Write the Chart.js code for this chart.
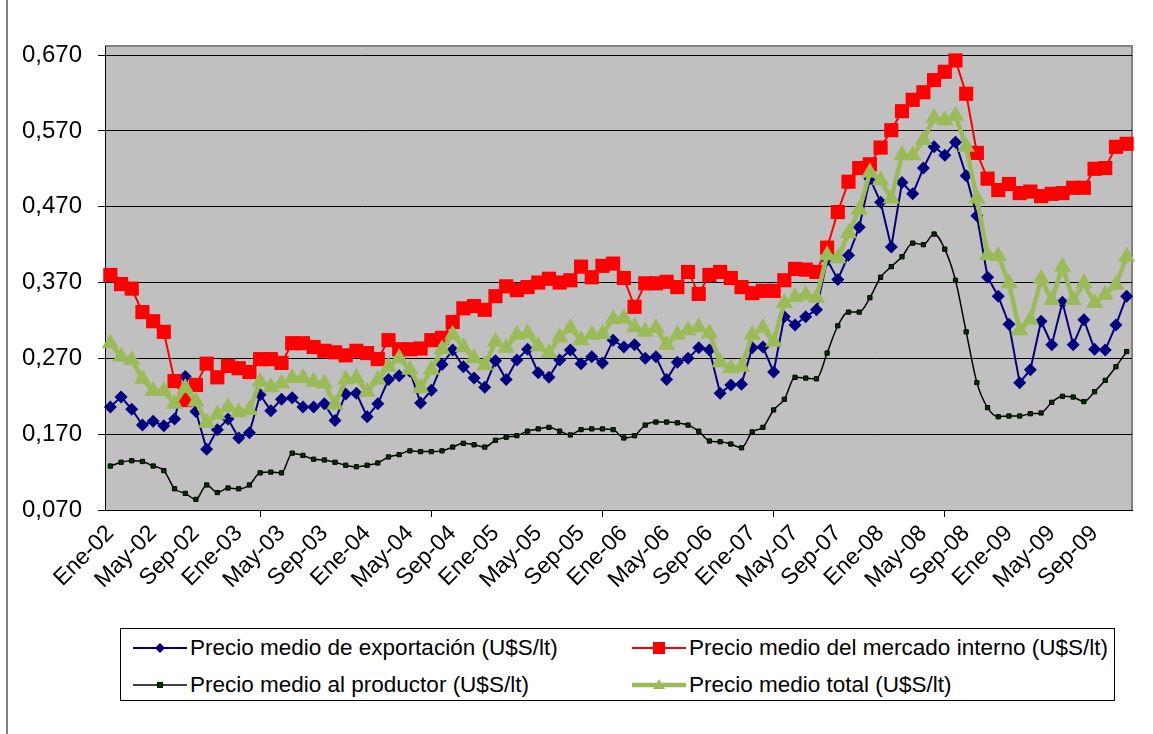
<!DOCTYPE html>
<html lang="es">
<head>
  <meta charset="UTF-8">
  <title>Precios medios</title>
  <script src="https://cdn.jsdelivr.net/npm/chart.js"></script>
  <style>
    * { box-sizing: border-box; }
    body { margin: 0; background: #fff; font-family: 'Liberation Sans', Arial, sans-serif; }
    #wrap { position: relative; width: 1153px; height: 734px; }
    #frame { position: absolute; left: 6px; top: 0; width: 2px; height: 734px; background: #7f7f7f; }
    canvas { position: absolute; left: 0; top: 0; }
    .legend { position: absolute; left: 120px; top: 628px; width: 995px; height: 73px; border: 1px solid #000; background: #fff; }
    .item { position: absolute; display: flex; align-items: center; font-size: 22.5px; color: #000; white-space: nowrap; }
    .item svg { margin-right: 3px; }
  </style>
</head>
<body>
<div id="wrap">
  <canvas id="chart" width="1153" height="734"></canvas>
  <div id="frame"></div>
  <div class="legend" id="legend"></div>
</div>
<script>
// months Ene-02 .. Dic-09
const months = [
  'Ene-02','Feb-02','Mar-02','Abr-02','May-02','Jun-02','Jul-02','Ago-02','Sep-02','Oct-02','Nov-02','Dic-02',
  'Ene-03','Feb-03','Mar-03','Abr-03','May-03','Jun-03','Jul-03','Ago-03','Sep-03','Oct-03','Nov-03','Dic-03',
  'Ene-04','Feb-04','Mar-04','Abr-04','May-04','Jun-04','Jul-04','Ago-04','Sep-04','Oct-04','Nov-04','Dic-04',
  'Ene-05','Feb-05','Mar-05','Abr-05','May-05','Jun-05','Jul-05','Ago-05','Sep-05','Oct-05','Nov-05','Dic-05',
  'Ene-06','Feb-06','Mar-06','Abr-06','May-06','Jun-06','Jul-06','Ago-06','Sep-06','Oct-06','Nov-06','Dic-06',
  'Ene-07','Feb-07','Mar-07','Abr-07','May-07','Jun-07','Jul-07','Ago-07','Sep-07','Oct-07','Nov-07','Dic-07',
  'Ene-08','Feb-08','Mar-08','Abr-08','May-08','Jun-08','Jul-08','Ago-08','Sep-08','Oct-08','Nov-08','Dic-08',
  'Ene-09','Feb-09','Mar-09','Abr-09','May-09','Jun-09','Jul-09','Ago-09','Sep-09','Oct-09','Nov-09','Dic-09'
];

const exportacion = [
  0.206,0.219,0.203,0.182,0.187,0.181,0.190,0.246,0.200,0.150,0.176,0.190,
  0.165,0.172,0.222,0.201,0.216,0.218,0.206,0.206,0.210,0.188,0.223,0.224,
  0.193,0.210,0.242,0.247,0.253,0.211,0.228,0.262,0.281,0.259,0.244,0.232,
  0.267,0.242,0.268,0.282,0.251,0.245,0.268,0.281,0.263,0.272,0.264,0.294,
  0.285,0.288,0.270,0.272,0.242,0.265,0.270,0.284,0.281,0.224,0.235,0.236,
  0.284,0.285,0.252,0.325,0.314,0.325,0.334,0.400,0.374,0.406,0.443,0.507,
  0.476,0.417,0.502,0.487,0.521,0.549,0.538,0.555,0.511,0.458,0.377,0.352,
  0.315,0.238,0.255,0.319,0.288,0.344,0.288,0.321,0.282,0.281,0.314,0.352
];
const mercadoInterno = [
  0.380,0.368,0.362,0.331,0.319,0.305,0.240,0.215,0.235,0.263,0.245,0.260,
  0.257,0.252,0.269,0.269,0.264,0.290,0.290,0.285,0.280,0.278,0.274,0.280,
  0.277,0.269,0.294,0.282,0.282,0.283,0.294,0.297,0.318,0.336,0.339,0.334,
  0.352,0.365,0.360,0.364,0.370,0.375,0.370,0.373,0.391,0.377,0.392,0.395,
  0.376,0.338,0.369,0.369,0.371,0.364,0.384,0.355,0.380,0.384,0.376,0.364,
  0.356,0.359,0.359,0.373,0.388,0.387,0.384,0.416,0.463,0.503,0.521,0.526,
  0.548,0.571,0.596,0.611,0.621,0.637,0.648,0.663,0.619,0.541,0.507,0.492,
  0.500,0.488,0.490,0.484,0.487,0.488,0.495,0.495,0.520,0.521,0.549,0.553
];
const productor = [
  0.128,0.133,0.135,0.134,0.128,0.122,0.098,0.092,0.084,0.103,0.093,0.099,
  0.098,0.103,0.119,0.120,0.119,0.145,0.142,0.137,0.136,0.133,0.129,0.127,
  0.129,0.132,0.140,0.143,0.148,0.147,0.147,0.148,0.153,0.158,0.156,0.153,
  0.162,0.166,0.168,0.174,0.177,0.179,0.174,0.169,0.176,0.177,0.177,0.176,
  0.165,0.168,0.182,0.186,0.186,0.185,0.182,0.174,0.161,0.160,0.157,0.152,
  0.173,0.179,0.202,0.216,0.245,0.244,0.243,0.277,0.313,0.331,0.331,0.350,
  0.377,0.391,0.404,0.422,0.420,0.434,0.414,0.373,0.305,0.238,0.205,0.193,
  0.194,0.194,0.197,0.198,0.212,0.220,0.219,0.213,0.226,0.241,0.259,0.279
];
const total = [
  0.290,0.272,0.268,0.243,0.227,0.227,0.210,0.231,0.213,0.185,0.196,0.206,
  0.199,0.202,0.239,0.232,0.237,0.244,0.244,0.239,0.237,0.209,0.242,0.244,
  0.226,0.242,0.259,0.270,0.255,0.231,0.255,0.282,0.301,0.285,0.270,0.261,
  0.292,0.284,0.301,0.303,0.286,0.277,0.298,0.310,0.294,0.301,0.302,0.322,
  0.323,0.311,0.305,0.310,0.288,0.301,0.307,0.311,0.303,0.265,0.257,0.259,
  0.301,0.310,0.292,0.343,0.351,0.354,0.350,0.406,0.402,0.435,0.466,0.515,
  0.505,0.481,0.538,0.538,0.558,0.587,0.584,0.590,0.549,0.481,0.406,0.405,
  0.369,0.307,0.321,0.375,0.347,0.391,0.347,0.369,0.343,0.354,0.367,0.404
];
const yTicks = [0.07, 0.17, 0.27, 0.37, 0.47, 0.57, 0.67];
const seriesNames = [
  'Precio medio de exportación (U$S/lt)',
  'Precio medio del mercado interno (U$S/lt)',
  'Precio medio al productor (U$S/lt)',
  'Precio medio total (U$S/lt)'
];

// gray plot area + gray top/right border like excel
const plotBg = {
  id: 'plotBg',
  beforeDraw(c) {
    const a = c.chartArea, ctx = c.ctx;
    ctx.save();
    ctx.fillStyle = '#c0c0c0';
    ctx.fillRect(a.left, a.top, a.right - a.left, a.bottom - a.top);
    ctx.strokeStyle = '#808080'; ctx.lineWidth = 2;
    ctx.beginPath();
    ctx.moveTo(a.left, a.top); ctx.lineTo(a.right, a.top); ctx.lineTo(a.right, a.bottom);
    ctx.stroke();
    ctx.restore();
  }
};

const chart = new Chart(document.getElementById('chart'), {
  type: 'line',
  data: {
    labels: months,
    datasets: [
      { label: seriesNames[0], data: exportacion, order: 3, borderColor: '#000080', backgroundColor: '#000080', borderWidth: 2,
        pointStyle: 'rectRot', pointRadius: 6.5, pointBorderWidth: 0 },
      { label: seriesNames[1], data: mercadoInterno, order: 2, borderColor: '#ff0000', backgroundColor: '#ff0000', borderWidth: 2,
        pointStyle: 'rect', pointRadius: 10, pointBorderWidth: 0 },
      { label: seriesNames[2], data: productor, order: 1, borderColor: '#000000', backgroundColor: '#003300', borderWidth: 1.5,
        pointStyle: 'rect', pointRadius: 3, pointBorderWidth: 1, pointBorderColor: '#000', cubicInterpolationMode: 'monotone' },
      { label: seriesNames[3], data: total, order: 0, borderColor: '#9bbb59', backgroundColor: '#9bbb59', borderWidth: 4.5,
        pointStyle: 'triangle', pointRadius: 10, pointBorderWidth: 0 }
    ]
  },
  options: {
    responsive: false,
    animation: false,
    layout: { padding: { top: 46, right: 21, left: 0, bottom: 0 } },
    plugins: { legend: { display: false }, tooltip: { enabled: false } },
    scales: {
      x: {
        offset: true,
        afterFit: s => { s.height = 224; },
        border: { color: '#000', width: 1 },
        grid: { offset: true, drawOnChartArea: false, tickLength: 7,
          color: ctx => (ctx.index !== undefined && ctx.index % 4 === 0) ? '#000' : 'rgba(0,0,0,0)' },
        ticks: { autoSkip: false, minRotation: 45, maxRotation: 45, padding: 3, color: '#000',
          font: { family: 'Liberation Sans', size: 23 },
          callback: (v, i) => i % 4 === 0 ? months[i] : null }
      },
      y: {
        min: 0.07, max: 0.682,
        afterFit: s => { s.width = 105; },
        afterBuildTicks: s => { s.ticks = yTicks.map(v => ({ value: v })); },
        border: { color: '#000', width: 1 },
        grid: { color: '#000', lineWidth: 1, tickLength: 7 },
        ticks: { color: '#000', padding: 16, font: { family: 'Liberation Sans', size: 24 },
          callback: v => v.toFixed(3).replace('.', ',') }
      }
    }
  },
  plugins: [plotBg]
});

// html legend, 2 columns like the original
function sample(i) {
  const ds = chart.data.datasets[i], col = ds.borderColor, w = 54, h = 20, cx = 27, cy = 10;
  let mk = '';
  if (i === 0) mk = `<polygon points="${cx},${cy-5} ${cx+5},${cy} ${cx},${cy+5} ${cx-5},${cy}" fill="${col}"/>`;
  if (i === 1) mk = `<rect x="${cx-6}" y="${cy-6}" width="12" height="12" fill="${col}"/>`;
  if (i === 2) mk = `<rect x="${cx-2.5}" y="${cy-2.5}" width="5" height="5" fill="#003300" stroke="#000" stroke-width="1"/>`;
  if (i === 3) mk = `<polygon points="${cx},${cy-6} ${cx+6},${cy+4} ${cx-6},${cy+4}" fill="${col}"/>`;
  return `<svg width="${w}" height="${h}"><line x1="0" y1="${cy}" x2="${w}" y2="${cy}" stroke="${col}" stroke-width="${ds.borderWidth}"/>${mk}</svg>`;
}
const pos = [[12, 6], [511, 6], [12, 43], [511, 43]];
document.getElementById('legend').innerHTML = seriesNames.map((n, i) =>
  `<div class="item" style="left:${pos[i][0]}px;top:${pos[i][1]}px">${sample(i)}<span>${n}</span></div>`).join('');
</script>
</body>
</html>
